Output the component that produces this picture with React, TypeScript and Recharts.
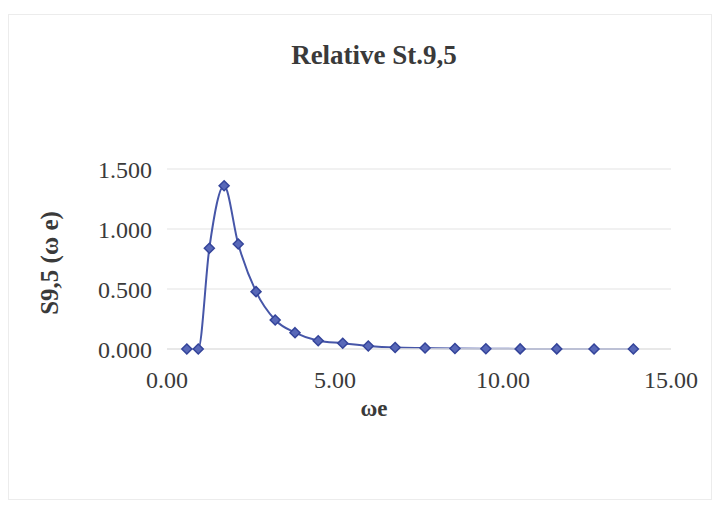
import React from 'react'
import { LineChart, Line, XAxis, YAxis, CartesianGrid } from 'recharts'

// encounter frequency (ωe) and relative spectral ordinate S9,5
const omegaE = [0.59, 0.93, 1.26, 1.7, 2.12, 2.65, 3.22, 3.81, 4.5, 5.23, 5.99, 6.79, 7.68, 8.57, 9.49, 10.51, 11.6, 12.71, 13.88]
const s95 = [0.0, 0.0, 0.84, 1.36, 0.875, 0.478, 0.242, 0.136, 0.069, 0.048, 0.025, 0.012, 0.008, 0.004, 0.002, 0.001, 0.001, 0.0, 0.0]
const xTicks = [0, 5, 10, 15]
const yTicks = [0, 0.5, 1, 1.5]

const data = omegaE.map((w, i) => ({ w, s: s95[i] }))

const serif = '"Liberation Serif", "Times New Roman", serif'
const textColor = '#3a3a3a'
const lineColor = '#4656a8'

function Diamond(props: any) {
  const { cx, cy, index } = props
  if (cx == null || cy == null) return <g key={index} />
  const r = 5
  return (
    <path
      key={index}
      d={`M${cx},${cy - r}L${cx + r},${cy}L${cx},${cy + r}L${cx - r},${cy}Z`}
      fill="#5868b8"
      stroke="#34449a"
      strokeWidth={1.5}
    />
  )
}

export default function App() {
  return (
    <div style={{ position: 'absolute', left: 0, top: 0, width: 719, height: 506, background: '#fff', fontFamily: serif }}>
      <div
        style={{
          position: 'absolute',
          left: 8,
          top: 14,
          width: 704,
          height: 486,
          border: '1px solid #ececec',
          boxSizing: 'border-box',
        }}
      />
      <div
        style={{
          position: 'absolute',
          left: 0,
          width: 748,
          top: 40,
          textAlign: 'center',
          fontSize: 27,
          fontWeight: 'bold',
          color: textColor,
        }}
      >
        Relative St.9,5
      </div>
      <div
        style={{
          position: 'absolute',
          left: 50,
          top: 263,
          transform: 'translate(-50%, -50%) rotate(-90deg)',
          whiteSpace: 'nowrap',
          fontSize: 25,
          fontWeight: 'bold',
          color: textColor,
        }}
      >
        S9,5 (ω e)
      </div>
      <div
        style={{
          position: 'absolute',
          left: 0,
          width: 748,
          top: 396,
          textAlign: 'center',
          fontSize: 23,
          fontWeight: 'bold',
          color: textColor,
        }}
      >
        ωe
      </div>
      <div style={{ position: 'absolute', left: 0, top: 0 }}>
        <LineChart width={719} height={506} data={data} margin={{ top: 169, right: 48, bottom: 107, left: 67 }}>
          <CartesianGrid horizontal vertical={false} stroke="#ededed" strokeWidth={1.5} />
          <XAxis
            dataKey="w"
            type="number"
            domain={[0, 15]}
            ticks={xTicks}
            tickFormatter={(v: number) => v.toFixed(2)}
            axisLine={{ stroke: '#e4e4e4', strokeWidth: 1.5 }}
            tickLine={false}
            tickSize={0}
            tickMargin={22}
            height={50}
            tick={{ fontSize: 24, fontFamily: serif, fill: textColor }}
          />
          <YAxis
            type="number"
            domain={[0, 1.5]}
            ticks={yTicks}
            tickFormatter={(v: number) => v.toFixed(3)}
            axisLine={false}
            tickLine={false}
            tickSize={0}
            tickMargin={15}
            width={100}
            tick={{ fontSize: 24, fontFamily: serif, fill: textColor }}
          />
          <Line
            type="monotone"
            dataKey="s"
            stroke={lineColor}
            strokeWidth={2}
            dot={Diamond}
            activeDot={false}
            isAnimationActive={false}
          />
        </LineChart>
      </div>
    </div>
  )
}
